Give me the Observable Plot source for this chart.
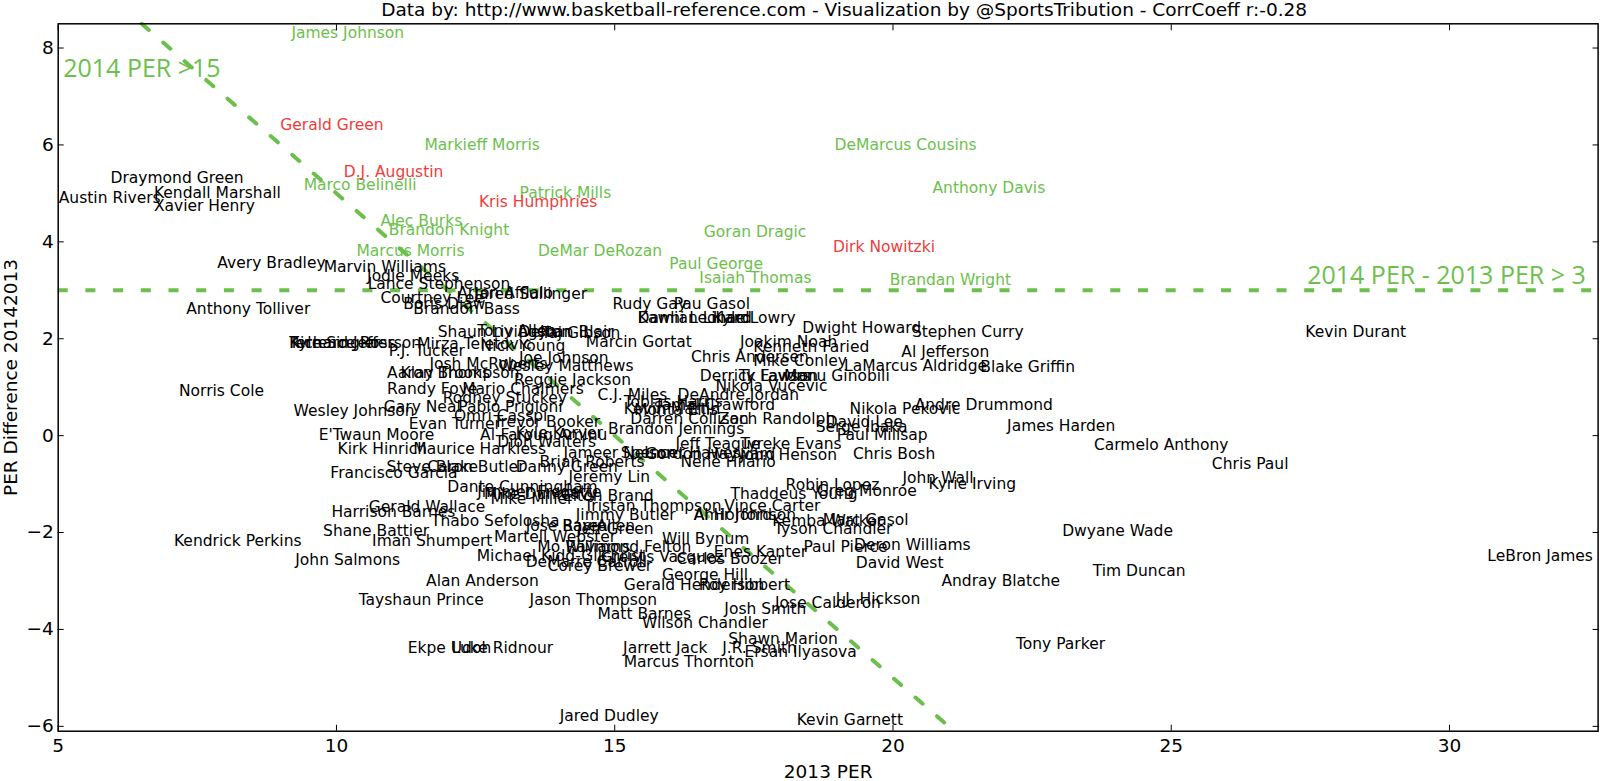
<!DOCTYPE html>
<html><head><meta charset="utf-8">
<script src="https://cdn.jsdelivr.net/npm/d3@7"></script>
<script src="https://cdn.jsdelivr.net/npm/@observablehq/plot@0.6"></script>
<style>
html,body{margin:0;padding:0;background:#fff;}
#chart svg{display:block;}
</style>
</head><body><div id="chart"></div>
<script>
const title = "Data by: http://www.basketball-reference.com - Visualization by @SportsTribution - CorrCoeff r:-0.28";
const xLabel = "2013 PER";
const yLabel = "PER Difference 20142013";
const xTicks = [5, 10, 15, 20, 25, 30];
const yTicks = [-6, -4, -2, 0, 2, 4, 6, 8];
const perThreshold = 15;
const diffThreshold = 3;
const perNote = "2014 PER >15";
const diffNote = "2014 PER - 2013 PER > 3";

const names = [
"James Johnson","Gerald Green","Markieff Morris","DeMarcus Cousins","D.J. Augustin","Marco Belinelli","Patrick Mills","Kris Humphries","Anthony Davis","Alec Burks","Brandon Knight","Goran Dragic","Dirk Nowitzki","Marcus Morris","DeMar DeRozan","Paul George","Isaiah Thomas","Brandan Wright",
"Draymond Green","Kendall Marshall","Austin Rivers","Xavier Henry","Avery Bradley","Marvin Williams","Jodie Meeks","Lance Stephenson","Anthony Tolliver","Courtney Lee","Boris Diaw","Arron Afflalo","Jared Sullinger","Brandon Bass",
"Rudy Gay","Pau Gasol","Kawhi Leonard","Damian Lillard","Kyle Lowry","Dwight Howard","Stephen Curry","Kevin Durant","Shaun Livingston","Tony Allen","Taj Gibson",
"Kyle Singler","Richard Jefferson","Terrence Ross","P.J. Tucker","Mirza Teletovic","Nick Young","Marcin Gortat","Joakim Noah","Kenneth Faried","Al Jefferson","Chris Andersen","Mike Conley","LaMarcus Aldridge","Blake Griffin",
"Josh McRoberts","Wesley Matthews","Joe Johnson","Aaron Brooks","Reggie Jackson","Derrick Favors","Ty Lawson","Manu Ginobili","Nikola Vucevic","Randy Foye","Mario Chalmers","Norris Cole","C.J. Miles","DeAndre Jordan","Rodney Stuckey","Jamal Crawford","Andre Drummond","Nikola Pekovic",
"Wesley Johnson","Gary Neal","Omri Casspi","Evan Turner","David Lee","Serge Ibaka","James Harden","E'Twaun Moore","Paul Millsap","Carmelo Anthony","Jeff Teague","Tyreke Evans","Kirk Hinrich","Maurice Harkless","Gordon Hayward","John Henson","Chris Bosh","Nene Hilario","Chris Paul",
"Steve Blake","Caron Butler","Danny Green","Francisco Garcia","Jeremy Lin","John Wall","Kyrie Irving","Robin Lopez","Dante Cunningham","Greg Monroe","Thaddeus Young","Elton Brand","Gerald Wallace","Harrison Barnes","Thabo Sefolosha","Kemba Walker","Marc Gasol","Tyson Chandler","Shane Battier","Dwyane Wade","Martell Webster","Will Bynum","Iman Shumpert","Kendrick Perkins",
"Deron Williams","Paul Pierce","Raymond Felton","Enes Kanter","LeBron James","Carlos Boozer","John Salmons","David West","Corey Brewer","Tim Duncan","George Hill","Alan Anderson","Andray Blatche","Gerald Henderson","Roy Hibbert","J.J. Hickson","Tayshaun Prince","Jason Thompson","Jose Calderon","Josh Smith","Matt Barnes","Wilson Chandler","Shawn Marion","Tony Parker","Ekpe Udoh","Luke Ridnour","Jarrett Jack","J.R. Smith","Ersan Ilyasova","Marcus Thornton","Jared Dudley","Kevin Garnett",
"Jimmy Butler","Vince Carter","Tristan Thompson",
"Kevin Martin","Darren Collison","Zach Randolph","Brandon Jennings","Trevor Booker","Kyle Korver","Al-Farouq Aminu","Dion Waiters","Jose Barea","Ray Allen","Jeff Green","Mo Williams",
"DeJuan Blair","Klay Thompson","Pablo Prigioni","Jameer Nelson","Brian Roberts","Spencer Hawes","Jimmer Fredette","Mike Dunleavy","Mike Miller","Amir Johnson","Al Horford","Michael Kidd-Gilchrist","DeMarre Carroll","Greivis Vasquez","Monta Ellis",
"Tobias Harris"
];
const per2013 = [
9.19,8.99,11.58,18.95,10.13,9.41,13.29,12.56,20.71,10.79,10.94,16.60,18.92,10.36,13.62,15.98,16.52,19.94,
5.94,6.72,5.01,6.72,7.86,9.77,10.55,10.56,7.30,10.79,11.20,12.17,12.48,11.38,
14.96,16.06,15.42,15.41,16.76,18.37,20.34,27.41,11.82,12.53,13.68,
9.15,9.15,9.15,10.94,11.45,12.59,14.48,17.25,17.49,20.15,16.37,17.49,19.12,21.57,
11.67,12.91,13.28,10.91,13.19,16.53,17.23,18.04,16.81,10.91,12.26,7.17,14.69,16.13,11.91,15.76,20.39,19.22,
9.23,10.85,12.11,11.30,18.79,18.61,22.05,9.68,18.99,23.61,16.09,17.26,10.02,11.38,15.55,17.25,19.28,16.18,25.73,
10.90,11.63,13.22,9.89,14.17,20.17,20.64,18.07,11.99,18.63,17.08,14.07,10.58,9.91,11.70,17.83,18.74,17.86,9.76,23.04,12.83,15.85,10.64,7.08,
19.30,18.39,14.12,16.78,30.68,16.11,9.26,19.33,13.79,23.59,15.85,11.61,20.87,15.16,16.51,18.97,10.40,13.47,17.88,16.97,14.69,15.49,17.04,22.21,11.28,12.07,15.15,16.93,17.33,15.16,14.01,18.27,
14.30,16.97,14.45,
15.16,15.28,16.87,14.88,12.82,13.22,12.58,12.89,13.40,14.06,14.32,13.61,
13.27,11.15,12.19,14.08,13.65,15.11,12.53,12.65,12.77,16.42,16.42,12.52,13.40,14.75,15.35,
15.16
];
const perDiff = [
8.20,6.31,5.90,5.90,5.34,5.08,4.90,4.71,5.00,4.33,4.14,4.11,3.80,3.71,3.71,3.44,3.16,3.10,
5.21,4.90,4.80,4.64,3.45,3.37,3.20,3.03,2.51,2.73,2.61,2.84,2.82,2.51,
2.61,2.61,2.32,2.32,2.32,2.11,2.03,2.03,2.03,2.06,2.02,
1.80,1.80,1.80,1.65,1.79,1.75,1.82,1.82,1.72,1.62,1.51,1.44,1.33,1.31,
1.38,1.34,1.49,1.20,1.05,1.12,1.12,1.12,0.93,0.85,0.85,0.81,0.74,0.74,0.67,0.53,0.52,0.45,
0.41,0.48,0.31,0.14,0.17,0.07,0.10,-0.09,-0.09,-0.30,-0.27,-0.27,-0.38,-0.38,-0.48,-0.50,-0.48,-0.65,-0.69,
-0.76,-0.76,-0.76,-0.88,-0.96,-0.98,-1.10,-1.13,-1.17,-1.24,-1.31,-1.34,-1.58,-1.67,-1.86,-1.86,-1.84,-2.03,-2.08,-2.08,-2.19,-2.23,-2.27,-2.28,
-2.37,-2.41,-2.41,-2.51,-2.59,-2.65,-2.68,-2.74,-2.79,-2.89,-2.98,-3.10,-3.10,-3.18,-3.18,-3.47,-3.49,-3.49,-3.56,-3.68,-3.78,-3.97,-4.29,-4.40,-4.49,-4.49,-4.49,-4.49,-4.57,-4.78,-5.88,-5.98,
-1.75,-1.55,-1.55,
0.45,0.24,0.24,0.03,0.17,-0.04,-0.10,-0.24,-1.96,-1.96,-2.03,-2.41,
2.03,1.20,0.48,-0.47,-0.64,-0.47,-1.27,-1.31,-1.41,-1.75,-1.75,-2.58,-2.72,-2.61,0.42,
0.60
];
const redNames = ["Gerald Green","D.J. Augustin","Kris Humphries","Dirk Nowitzki"];
const greenNames = ["James Johnson","Markieff Morris","DeMarcus Cousins","Marco Belinelli","Patrick Mills","Anthony Davis","Alec Burks","Brandon Knight","Goran Dragic","Marcus Morris","DeMar DeRozan","Paul George","Isaiah Thomas","Brandan Wright"];

const players = names.map((n, i) => ({name: n, per: per2013[i], diff: perDiff[i],
  group: redNames.includes(n) ? "r" : greenNames.includes(n) ? "g" : "k"}));

const GREEN = "#6cbf4c", RED = "#f03c3c";
const fontFam = "DejaVu Sans, Verdana, sans-serif";
const minus = d => (d < 0 ? "\u2212" + Math.abs(d) : String(d));
const lineXs = [6.5, 21];

const labelMark = (grp, color) => Plot.text(players.filter(d => d.group === grp), {
  x: "per", y: "diff", text: "name", textAnchor: "start", lineAnchor: "bottom",
  fill: color, fontSize: 15.5, fontFamily: fontFam
});

const chart = Plot.plot({
  width: 1600, height: 781,
  marginLeft: 57.7, marginRight: 2.4, marginTop: 23.3, marginBottom: 50.3,
  style: {fontFamily: fontFam, fontSize: "18.5px", background: "#fff", color: "#000"},
  x: {domain: [5, 32.67], ticks: xTicks},
  y: {domain: [-6.1, 8.5], ticks: yTicks},
  marks: [
    Plot.ruleY([diffThreshold], {stroke: GREEN, strokeWidth: 4, strokeDasharray: "10,17.7"}),
    Plot.line(lineXs.map(x => ({x, y: perThreshold - x})), {x: "x", y: "y", stroke: GREEN, strokeWidth: 4, strokeDasharray: "9.5,19"}),
    labelMark("k", "#000"),
    labelMark("g", GREEN),
    labelMark("r", RED),
    Plot.text([perNote], {x: 5.09, y: 7.41, text: d => d, textAnchor: "start", lineAnchor: "bottom", fill: GREEN, fontSize: 25, fontFamily: "Open Sans"}),
    Plot.text([diffNote], {x: 32.45, y: 3.14, text: d => d, textAnchor: "end", lineAnchor: "bottom", fill: GREEN, fontSize: 25, fontFamily: "Open Sans"}),
    Plot.axisX(xTicks, {anchor: "bottom", tickSize: -6, tickPadding: 13.3, tickFormat: minus, label: null, fontSize: 18.5}),
    Plot.axisX(xTicks, {anchor: "top", tickSize: -6, tickFormat: () => "", label: null}),
    Plot.axisY(yTicks, {anchor: "left", tickSize: -6, tickPadding: 10.4, tickFormat: minus, label: null, fontSize: 18.5}),
    Plot.axisY(yTicks, {anchor: "right", tickSize: -6, tickFormat: () => "", label: null}),
    Plot.frame({stroke: "#000", strokeWidth: 1.5}),
    Plot.text([title], {frameAnchor: "top", text: d => d, dx: 16, dy: -7.5, lineAnchor: "bottom", fontSize: 18.5}),
    Plot.text([yLabel], {frameAnchor: "left", text: d => d, rotate: -90, dx: -41, lineAnchor: "bottom", textAnchor: "middle", fontSize: 18.5}),
    Plot.text([xLabel], {frameAnchor: "bottom", text: d => d, dy: 46.5, lineAnchor: "bottom", fontSize: 18.5})
  ]
});
document.getElementById("chart").appendChild(chart);
</script>
</body></html>
